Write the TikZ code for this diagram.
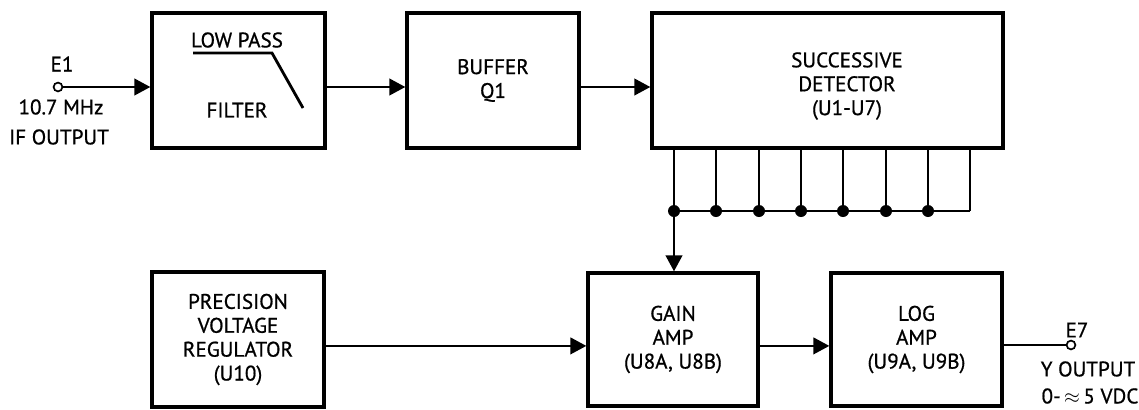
\documentclass[tikz,border=0pt]{standalone}
\usepackage{fontspec}
\setmainfont{PT Sans}[FakeBold=0.8]
\usepackage{tikz}
\usetikzlibrary{positioning, calc, arrows.meta}

\tikzset{
  block/.style={draw, rectangle, line width=2.4pt, align=center, inner sep=0pt},
  lbl/.style={align=center, inner sep=0pt},
  conn/.style={line width=1.3pt, -{Triangle[length=0.4cm, width=0.42cm]}},
  wire/.style={line width=1.7pt},
  dot/.style={circle, fill, inner sep=0pt, minimum size=0.3cm},
  term/.style={circle, draw, line width=1.2pt, fill=white, inner sep=0pt, minimum size=0.22cm},
}

\begin{document}
\begin{tikzpicture}[x=0.025cm, y=-0.025cm, font=\fontsize{15}{17}\selectfont]
			\useasboundingbox (0,0) rectangle (1139,409);

			% top row
			\node[block, minimum width=4.325cm, minimum height=3.375cm] (filter)   at (238.5, 80.5)  {};
			\node[lbl] (lowpass)   at (237, 40)  {LOW PASS};
			\node[lbl] (filtertxt)   at (237, 110)  {FILTER};
			\node[block, minimum width=4.3cm, minimum height=3.375cm] (buffer)   at (493, 80.5)  {BUFFER\\Q1};
			\node[block, minimum width=8.775cm, minimum height=3.375cm] (detector)   at (827.5, 80.5)  {};
			\node[lbl] (detectortxt)   at (847, 86)  {SUCCESSIVE\\DETECTOR\\(U1-U7)};

			% bottom row
			\node[block, minimum width=4.3cm, minimum height=3.375cm] (regulator)   at (238, 339.5)  {PRECISION\\VOLTAGE\\REGULATOR\\(U10)};
			\node[block, minimum width=4.25cm, minimum height=3.325cm] (gain)   at (673, 339.5)  {GAIN\\AMP\\(U8A, U8B)};
			\node[block, minimum width=4.275cm, minimum height=3.325cm] (log)   at (916.5, 339.5)  {LOG\\AMP\\(U9A, U9B)};

			% filter response
			\draw[line width=2pt] (193, 53) -- (272, 53) -- (303, 108);

			% input terminal
			\node[term] (e1)   at (58, 87)  {};
			\node[lbl] (e1name)   at (62, 64)  {E1};
			\node[lbl] (e1freq)   at (61, 107)  {10.7 MHz};
			\node[lbl] (e1src)   at (59, 137)  {IF OUTPUT};

			% output terminal
			\node[term] (e7)   at (1071, 345)  {};
			\node[lbl] (e7name)   at (1077, 330)  {E7};
			\node[lbl] (e7out)   at (1088, 369)  {Y OUTPUT};
			\node[lbl] (e7range)   at (1090, 396)  {0-\,$\approx$\,5 VDC};

			\draw[conn] (e1) -- (e1 -| filter.west);
			\draw[conn] (filter.east |- e1) -- (buffer.west |- e1);
			\draw[conn] (buffer.east |- e1) -- (detector.west |- e1);

			% detector outputs
			\foreach \x [count=\i] in {674, 716, 759, 801, 843, 886, 928, 970} {
				\coordinate (tap\i) at (\x, 211);
				\draw[wire] (detector.south -| tap\i) -- (tap\i);
			}
			\draw[wire] (tap1) -- (tap8);
			\foreach \i in {1,...,7}
				\node[dot] (dot\i) at (tap\i) {};
			\draw[conn] (dot1) -- (dot1 |- gain.north);

			\draw[conn] ([yshift=-0.16cm]regulator.east) -- ([yshift=-0.16cm]gain.west);
			\draw[conn] ([yshift=-0.16cm]gain.east) -- ([yshift=-0.16cm]log.west);
			\draw[line width=1.3pt] (log.east |- e7) -- (e7);
		\end{tikzpicture}
\end{document}
